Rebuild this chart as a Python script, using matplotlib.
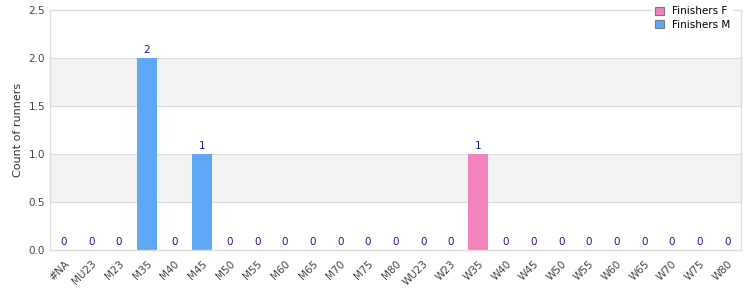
import matplotlib
matplotlib.use("Agg")
import matplotlib.pyplot as plt
import numpy as np
from matplotlib.patches import Patch

# --------------------------
# Data
# --------------------------
categories = ["#NA", "MU23", "M23", "M35", "M40", "M45", "M50", "M55", "M60",
              "M65", "M70", "M75", "M80", "WU23", "W23", "W35", "W40", "W45",
              "W50", "W55", "W60", "W65", "W70", "W75", "W80"]
finishers_f = [0, 0, 0, 0, 0, 0, 0, 0, 0, 0, 0, 0, 0, 0, 0, 1, 0, 0, 0, 0, 0, 0, 0, 0, 0]
finishers_m = [0, 0, 0, 2, 0, 1, 0, 0, 0, 0, 0, 0, 0, 0, 0, 0, 0, 0, 0, 0, 0, 0, 0, 0, 0]

COLOR_F = "#f283bc"
COLOR_M = "#5fa8f5"
GRID = "#dcdcdc"

# --------------------------
# Plot
# --------------------------
plt.rcParams["font.family"] = "DejaVu Sans"
fig = plt.figure(figsize=(7.5, 3), dpi=100)
ax = fig.add_axes([50 / 750, 50 / 300, 691 / 750, 240 / 300])

x = np.arange(len(categories))
f = np.array(finishers_f)
m = np.array(finishers_m)

# alternating bands
for i, lo in enumerate(np.arange(0, 2.5, 0.5)):
    if i % 2 == 1:
        ax.axhspan(lo, lo + 0.5, color="#f3f3f3", zorder=0, lw=0)
for y in np.arange(0.5, 2.5, 0.5):
    ax.axhline(y, color=GRID, lw=0.8, zorder=0.5)

ax.bar(x, m, width=0.72, color=COLOR_M, zorder=2)
ax.bar(x, f, width=0.72, bottom=m, color=COLOR_F, zorder=2)

totals = f + m
for xi, t in zip(x, totals):
    ax.annotate(str(t), (xi, t), xytext=(0, 2), textcoords="offset points",
                ha="center", va="bottom", fontsize=7.5, color="#1a1a8c")

ax.set_xlim(-0.5, len(categories) - 0.5)
ax.set_ylim(0, 2.5)
ax.set_yticks(np.arange(0, 2.51, 0.5))
ax.set_yticklabels([f"{v:.1f}" for v in np.arange(0, 2.51, 0.5)])
ax.set_xticks(x)
ax.set_xticklabels(categories, rotation=45, ha="right", rotation_mode="anchor")
ax.tick_params(axis="both", length=0, labelsize=7.5, colors="#444444")
ax.tick_params(axis="x", pad=6)
ax.set_ylabel("Count of runners", fontsize=8, color="#333333")

for s in ax.spines.values():
    s.set_color(GRID)
    s.set_linewidth(1)

handles = [Patch(facecolor=COLOR_F, edgecolor="#777777", lw=0.8, label="Finishers F"),
           Patch(facecolor=COLOR_M, edgecolor="#777777", lw=0.8, label="Finishers M")]
leg = ax.legend(handles=handles, loc="upper right", bbox_to_anchor=(0.995, 1.045),
                fontsize=7.5, frameon=True, fancybox=False, framealpha=1,
                edgecolor="white", handlelength=0.8, handleheight=0.8,
                handletextpad=0.8, labelspacing=0.3, borderpad=0.2)
leg.set_zorder(5)

fig.savefig("out.png", dpi=100)
